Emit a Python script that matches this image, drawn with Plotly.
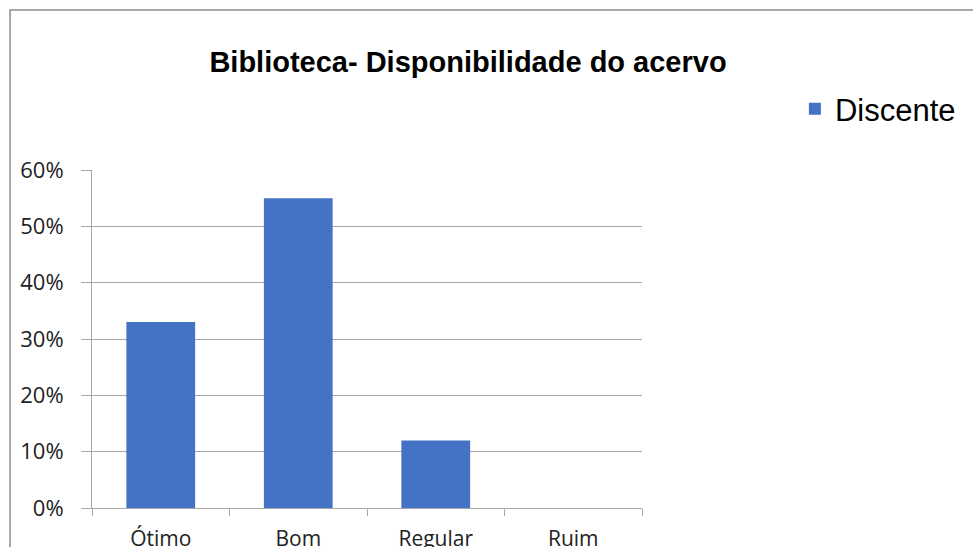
import plotly.graph_objects as go

# categories and values (share of responses)
categorias = ["Ótimo", "Bom", "Regular", "Ruim"]
discente = [0.33, 0.55, 0.12, 0.0]

fig = go.Figure(data=[go.Bar(
    x=categorias,
    y=discente,
    name="Discente",
    marker=dict(color="#4472C4", line=dict(width=0)),
)])

fig.update_layout(
    width=973,
    height=547,
    margin=dict(l=92, r=324, t=170, b=39),
    paper_bgcolor="white",
    plot_bgcolor="white",
    bargap=0.5,
    showlegend=True,
    title=dict(
        text="<b>Biblioteca- Disponibilidade do acervo</b>",
        font=dict(family="Liberation Sans, Arial", size=29, color="black"),
        x=0.481, xref="container", xanchor="center",
        y=1 - 62 / 547, yref="container", yanchor="middle",
    ),
    legend=dict(
        x=1.278, y=1.18, xanchor="left", yanchor="middle",
        font=dict(family="Liberation Sans, Arial", size=31, color="black"),
        itemwidth=30, bgcolor="rgba(0,0,0,0)",
    ),
    font=dict(family="Open Sans", color="#222"),
)

fig.update_yaxes(
    range=[0, 0.6],
    dtick=0.1,
    tickformat=".0%",
    showgrid=True, gridcolor="#A6A6A6", gridwidth=1,
    showline=True, linecolor="#A6A6A6", linewidth=1,
    ticks="outside", ticklen=10, tickcolor="#A6A6A6",
    ticklabelstandoff=13,
    tickfont=dict(family="Open Sans", size=22, color="#222"),
    zeroline=False,
    automargin=False,
    fixedrange=True,
)

fig.update_xaxes(
    showline=True, linecolor="#A6A6A6", linewidth=1,
    ticks="outside", tickson="boundaries", ticklen=7, tickcolor="#A6A6A6",
    ticklabelstandoff=12,
    tickfont=dict(family="Open Sans", size=21, color="#222"),
    showgrid=False,
    automargin=False,
    fixedrange=True,
)

# outer chart border (runs off the right and bottom of the picture)
fig.add_shape(
    type="rect", xref="paper", yref="paper",
    x0=(9 - 92) / 557, x1=(990 - 92) / 557,
    y0=(508 - 560) / 338, y1=(508 - 10) / 338,
    line=dict(color="#8C8C8C", width=1.5),
    fillcolor="rgba(0,0,0,0)", layer="below",
)

# drop the default page margin so the figure sits at the window's corner
fig.write_html(
    "out.html",
    config={"displayModeBar": False},
    post_script="document.body.style.margin='0';",
)
